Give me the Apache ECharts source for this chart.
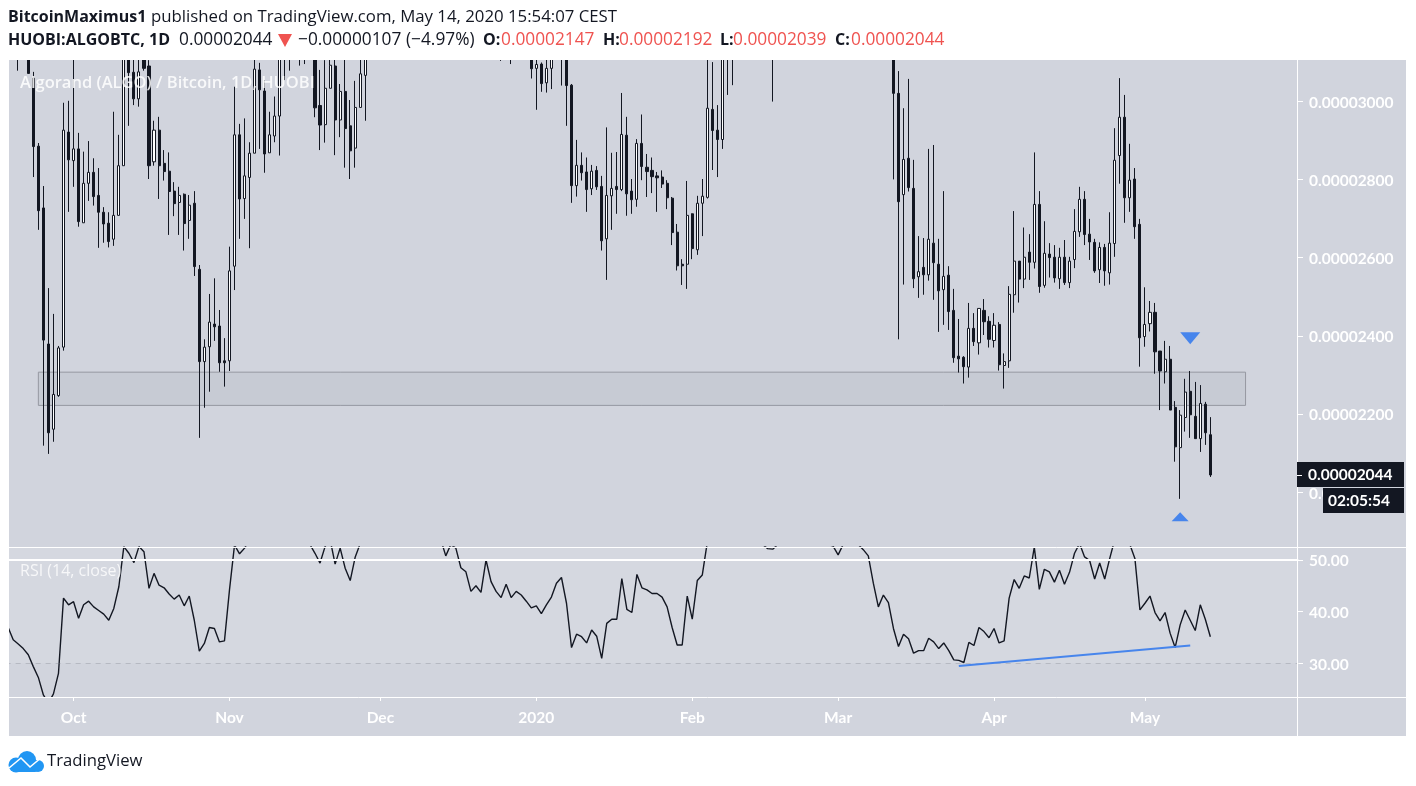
<!DOCTYPE html>
<html><head><meta charset="utf-8">
<style>html,body{margin:0;padding:0;background:#fff}#c{width:1416px;height:786px}</style>
<script src="https://cdn.jsdelivr.net/npm/echarts@6/dist/echarts.min.js"></script>
</head><body><div id="c"></div>
<script>
// Prices in units of 0.00000001 BTC. Bars beyond the top of the pane are estimates.
const opens=[3260,3230,3210,3180,3190,3059,2885,2727,2379,2161,
2247,2371,2921,2848,2878,2689,2790,2818,2759,2716,
2688,2647,2708,2835,3130,3074,3006,3110,3090,2845,
2926,2841,2821,2770,2741,2762,2695,2739,2570,2334,
2372,2430,2425,2336,2336,2578,2914,2751,2805,2867,
3080,3026,2868,2911,2962,3130,3150,3160,3180,3150,
3170,3150,2989,2940,3033,3090,2952,3025,2937,2880,
2984,3066,3120,3210,3305,3260,3340,3420,3385,3460,
3510,3470,3395,3440,3380,3330,3360,3300,3270,3310,
3350,3290,3250,3290,3230,3200,3240,3190,3180,3160,
3170,3140,3160,3190,3150,3084,3095,3047,3084,3130,
3150,3120,3041,2784,2836,2819,2776,2823,2782,2648,
2758,2782,2774,2913,2770,2749,2892,2831,2823,2809,
2806,2790,2752,2665,2583,2583,2712,2620,2739,2754,
2979,2926,2902,3110,3130,3120,3140,3180,3160,3200,
3170,3150,3130,3160,3195,3240,3290,3260,3320,3380,
3350,3410,3455,3420,3370,3395,3340,3360,3310,3285,
3320,3270,3240,3265,3215,3180,3150,3020,2761,2854,
2777,2551,2575,2556,2637,2583,2518,2555,2465,2348,
2345,2320,2419,2382,2465,2437,2388,2429,2324,2336,
2505,2591,2545,2614,2588,2736,2529,2609,2601,2546,
2601,2536,2595,2666,2749,2660,2639,2569,2626,2561,
2636,2861,2959,2753,2801,2685,2398,2431,2460,2361,
2308,2340,2217,2114,2191,2258,2194,2137,2225,2147];
const closes=[3230,3210,3180,3190,3071,2884,2720,2389,2152,2250,
2369,2926,2850,2878,2692,2790,2818,2756,2716,2686,
2641,2708,2835,3130,3073,3006,3075,3084,2835,2926,
2835,2820,2769,2738,2759,2687,2734,2577,2334,2371,
2435,2423,2331,2331,2566,2914,2750,2809,2867,3082,
3029,2865,2914,2962,3120,3150,3170,3180,3150,3170,
3150,2983,2939,3033,3092,2952,3025,2930,2873,2984,
3070,3120,3210,3305,3260,3340,3420,3385,3460,3510,
3470,3395,3440,3380,3330,3360,3300,3270,3310,3350,
3290,3250,3290,3230,3200,3240,3190,3180,3160,3170,
3140,3160,3190,3150,3083,3094,3045,3084,3120,3150,
3120,3040,2784,2836,2817,2774,2821,2781,2643,2759,
2777,2774,2915,2763,2748,2892,2833,2820,2807,2804,
2788,2753,2664,2579,2579,2708,2623,2739,2757,2982,
2925,2902,3115,3130,3115,3140,3180,3160,3200,3170,
3150,3130,3160,3195,3240,3290,3260,3320,3380,3350,
3410,3455,3420,3370,3395,3340,3360,3310,3285,3320,
3270,3240,3265,3215,3180,3150,3020,2743,2851,2779,
2546,2564,2556,2647,2587,2515,2552,2462,2344,2341,
2321,2419,2385,2470,2436,2391,2427,2326,2334,2506,
2591,2545,2601,2588,2736,2526,2611,2600,2548,2601,
2536,2591,2667,2749,2659,2640,2566,2626,2566,2637,
2849,2959,2753,2798,2679,2395,2429,2460,2359,2310,
2340,2210,2116,2197,2256,2198,2137,2227,2152,2044];
const lows=[3180,3150,3078,3120,3071,2806,2671,2119,2098,2129,
2244,2362,2717,2781,2679,2689,2745,2733,2625,2638,
2626,2630,2708,2835,2937,2990,2986,3078,2801,2835,
2750,2797,2658,2706,2658,2618,2648,2553,2139,2216,
2257,2387,2308,2270,2310,2517,2648,2699,2624,2867,
2878,2817,2868,2895,2861,3054,3078,3120,3091,3095,
3125,2959,2875,2894,3033,2862,2908,2830,2801,2830,
2984,2950,3125,3180,3230,3220,3290,3350,3350,3420,
3440,3370,3360,3350,3300,3300,3270,3240,3240,3280,
3260,3220,3220,3200,3170,3170,3160,3140,3103,3125,
3095,3115,3140,3120,3058,2978,3024,3022,3031,3115,
3040,2937,2740,2756,2797,2717,2760,2773,2618,2543,
2671,2712,2770,2707,2712,2730,2798,2755,2765,2717,
2778,2724,2632,2567,2530,2520,2596,2607,2655,2751,
2824,2806,2878,3016,3041,3112,3120,3130,3140,3145,
3120,3115,2999,3135,3170,3215,3225,3235,3290,3330,
3325,3385,3395,3345,3345,3320,3315,3290,3260,3260,
3245,3215,3215,3190,3155,3125,2800,2391,2531,2769,
2522,2497,2505,2541,2492,2410,2428,2415,2331,2306,
2278,2293,2374,2352,2402,2370,2370,2311,2265,2318,
2459,2485,2522,2543,2572,2510,2523,2549,2536,2520,
2530,2522,2573,2653,2632,2594,2561,2535,2528,2531,
2602,2789,2689,2717,2648,2321,2372,2411,2303,2210,
2278,2210,2078,1983,2155,2139,2137,2103,2121,2039];
const highs=[3290,3270,3240,3250,3210,3075,2893,2783,2522,2456,
2374,2996,3001,3130,2919,2871,2898,2854,2829,2729,
2716,2973,2914,3200,3190,3120,3130,3150,3105,2950,
2960,2875,2869,2793,2781,2764,2760,2770,2581,2391,
2507,2547,2466,2394,2628,3037,2942,2956,2895,3140,
3098,3054,2973,3012,3150,3190,3220,3230,3240,3220,
3210,3190,3080,3105,3130,3130,3044,3140,3003,3052,
3130,3160,3250,3340,3350,3380,3470,3460,3510,3560,
3550,3500,3480,3470,3400,3400,3390,3340,3360,3400,
3390,3330,3330,3320,3270,3280,3280,3230,3210,3220,
3210,3190,3220,3230,3180,3110,3099,3130,3140,3180,
3180,3150,3044,2901,2869,2856,2837,2834,2809,2933,
2868,2870,3021,2960,2801,2903,2966,2865,2856,2819,
2823,2798,2755,2686,2596,2796,2713,2758,2801,3120,
3100,2990,3150,3170,3170,3190,3220,3230,3250,3250,
3220,3200,3210,3220,3270,3310,3320,3350,3410,3405,
3440,3490,3485,3445,3420,3420,3395,3390,3335,3345,
3345,3295,3290,3290,3240,3200,3200,3077,2982,3057,
2850,2655,2650,2878,2888,2648,2770,2578,2520,2443,
2348,2484,2458,2470,2494,2450,2458,2435,2355,2527,
2719,2591,2677,2660,2869,2770,2693,2637,2632,2625,
2645,2602,2724,2781,2770,2699,2648,2639,2635,2716,
2931,3059,3016,2891,2829,2699,2524,2489,2484,2361,
2387,2374,2233,2210,2290,2310,2282,2274,2231,2192];
const rsiValues=[36.9,34.5,33.7,32.8,31.6,29.3,27.2,23.8,22.2,24,
28,42.6,41.3,41.9,38.7,41.3,42,40.9,40.2,39.5,
38.3,40.6,44.8,52.6,51.3,49.5,52.6,51.6,44.5,47.4,
45.1,44.6,43.4,42.4,43.2,41.1,43,38.3,32.3,33.8,
36.9,36.7,34.1,34.3,44.2,52.9,51.2,52.3,54,55,
57,56,54.5,56,58,57,55,54,55,54,
53,51.3,49.4,52.6,54,49.2,52.3,48.4,46,50.6,
53.2,54.5,55,56,58,57,59,60,58,60,
61,59,58,59,57,56,54,50.8,53,52.3,
48.5,47.7,43.9,45,43.7,50,45.8,43.9,42.7,45.3,
42.7,43.9,43.2,42,40.7,41.1,39.6,41.3,42.8,45.5,
46.6,41.6,33,35.6,35.1,33.9,36.4,35.2,30.9,37.7,
38.5,38.5,46.4,40.4,39.8,47.2,44.6,44.2,43.5,43.5,
42.8,40.9,36.9,33.5,33.5,43,38.5,46,47.1,53.5,
54.5,55,54,53.5,56,57,58,56,55,54,
53,52.2,52.1,53,54,56,57,58,57,58,
56,55,54,53,52.7,51,53,54,53,53,
52,50.8,45.5,40.9,43.2,41.7,36.7,33.2,35.6,34.7,
31.9,32.4,32.4,34.8,34.1,32.8,33.9,32.4,30.6,30.5,
30.1,34,33.4,36.9,36.1,34.9,36.7,33.9,34.3,42.6,
46.2,44.5,46.9,46.5,52.5,44.3,48.2,47.7,45.7,48,
45.3,47.6,51.3,53.2,50.6,49.9,46.3,49.4,46.3,50.3,
54,58,56,53,50.3,40.3,41.6,43,39.8,38.2,
39.8,35.8,33,37.4,40.3,38.3,36.3,41.3,38.5,35.1];

const priceTicks=[2000,2200,2400,2600,2800,3000];
const rsiTicks=[30,40,50];
const monthTicks={'2019-10-01':'Oct','2019-11-01':'Nov','2019-12-01':'Dec','2020-01-01':'2020','2020-02-01':'Feb','2020-03-01':'Mar','2020-04-01':'Apr','2020-05-01':'May'};
const firstDay=Date.UTC(2019,8,18), slotCount=257;
const categories=[];
for(let i=0;i<slotCount;i++)categories.push(new Date(firstDay+i*864e5).toISOString().slice(0,10));
const zoneRange=['2019-09-24','2020-05-21',2307,2222];
const trendLine=[['2020-03-25',29.4],['2020-05-10',33.4]];
const arrowDown=['2020-05-10',2394], arrowUp=['2020-05-08',1937];

const ink='#131722', blue='#4785ec', red='#ef5350', FONT='"Open Sans",sans-serif', AXF='Lato,sans-serif';
const candles=opens.map((o,i)=>[o,closes[i],lows[i],highs[i]]);
const isTick=(i,v)=>v in monthTicks;
const chart=echarts.init(document.getElementById('c'),null,{renderer:'canvas'});
function T(x,y,s,opt){return {type:'text',z:120,silent:true,style:Object.assign({x,y,text:s,fill:ink,font:'16.8px '+FONT,textVerticalAlign:'middle'},opt||{})};}
const bold='bold 16px '+FONT, num='17.3px '+FONT;
const axisFont={color:'#fff',fontFamily:AXF,fontSize:15.5,fontWeight:'bold'};
chart.setOption({
 animation:false,backgroundColor:'#fff',
 grid:[{left:5.655,top:60,width:1292.71,height:487},{left:5.655,top:547,width:1292.71,height:150}],
 xAxis:[
  {gridIndex:0,type:'category',data:categories,show:false},
  {gridIndex:1,type:'category',data:categories,axisLine:{show:false},
   axisTick:{show:true,alignWithLabel:true,interval:isTick,length:4,lineStyle:{color:'#fff'}},
   axisLabel:Object.assign({interval:isTick,formatter:v=>monthTicks[v]||'',margin:13},axisFont)}],
 yAxis:[
  {gridIndex:0,type:'value',position:'right',offset:-1.37,min:1859.85,max:3105.35,splitLine:{show:false},axisLine:{show:false},
   axisTick:{show:true,length:6,lineStyle:{color:'#fff'},customValues:priceTicks},
   axisLabel:Object.assign({customValues:priceTicks,formatter:v=>(v*1e-8).toFixed(8),margin:12,verticalAlign:'top',lineHeight:3},axisFont)},
  {gridIndex:1,type:'value',position:'right',offset:-1.37,min:23.4,max:52.52,splitLine:{show:false},axisLine:{show:false},
   axisTick:{show:true,length:6,lineStyle:{color:'#fff'},customValues:rsiTicks},
   axisLabel:Object.assign({customValues:rsiTicks,formatter:v=>v.toFixed(2),margin:12,verticalAlign:'top',lineHeight:3},axisFont)}],
 series:[
  {type:'candlestick',xAxisIndex:0,yAxisIndex:0,data:candles,barWidth:2.6,clip:true,
   itemStyle:{color:'#ffffff',color0:ink,borderColor:ink,borderColor0:ink,borderWidth:1},
   markArea:{silent:true,itemStyle:{color:'rgba(120,123,134,0.1)',borderColor:'#9598a1',borderWidth:1},
     data:[[{xAxis:zoneRange[0],yAxis:zoneRange[2]},{xAxis:zoneRange[1],yAxis:zoneRange[3]}]]},
   markPoint:{silent:true,animation:false,label:{show:false},data:[
     {coord:arrowDown,symbol:'triangle',symbolSize:[20,12],symbolRotate:180,itemStyle:{color:blue}},
     {coord:arrowUp,symbol:'triangle',symbolSize:[17,9],itemStyle:{color:blue}}]}},
  {type:'line',xAxisIndex:1,yAxisIndex:1,data:rsiValues,showSymbol:false,smooth:false,clip:true,
   lineStyle:{color:ink,width:1.4},z:3,
   markArea:{silent:true,itemStyle:{color:'rgba(255,255,255,0.1)'},data:[[{yAxis:30},{yAxis:70}]]},
   markLine:{silent:true,symbol:'none',label:{show:false},animation:false,data:[
     {yAxis:50,lineStyle:{color:'#fff',width:2,type:'solid'}},
     {yAxis:30,lineStyle:{color:'rgba(120,123,134,0.3)',width:1,type:[5,5]}},
     [{coord:trendLine[0],lineStyle:{color:blue,width:2,type:'solid'}},{coord:trendLine[1]}]]}}
 ],
 graphic:{elements:[
  {type:'rect',z:-100,silent:true,shape:{x:9,y:60,width:1397,height:676},style:{fill:'#d1d4dd'}},
  {type:'rect',z:100,silent:true,shape:{x:0,y:60,width:9,height:676},style:{fill:'#fff'}},
  {type:'rect',z:100,silent:true,shape:{x:0,y:0,width:1416,height:60},style:{fill:'#fff'}},
  {type:'line',z:90,silent:true,shape:{x1:9,y1:547.5,x2:1406,y2:547.5},style:{stroke:'#fff',lineWidth:1}},
  {type:'line',z:90,silent:true,shape:{x1:9,y1:697.5,x2:1406,y2:697.5},style:{stroke:'#fff',lineWidth:1}},
  {type:'line',z:90,silent:true,shape:{x1:1297.5,y1:60,x2:1297.5,y2:736},style:{stroke:'#fff',lineWidth:1}},
  // last price tag and countdown
  {type:'rect',z:100,silent:true,shape:{x:1297,y:462,width:107,height:25},style:{fill:ink}},
  {type:'line',z:101,silent:true,shape:{x1:1297,y1:475.5,x2:1302,y2:475.5},style:{stroke:'#fff',lineWidth:1}},
  {type:'rect',z:100,silent:true,shape:{x:1323,y:488,width:81,height:25},style:{fill:ink}},
  T(1308,475,'0.00002044',{fill:'#fff',font:'bold 15.5px '+AXF}),
  T(1328,501,'02:05:54',{fill:'#fff',font:'bold 15.5px '+AXF}),
  // pane captions
  T(20,83,'Algorand (ALGO) / Bitcoin, 1D, HUOBI',{fill:'rgba(255,255,255,0.85)',font:'600 16.5px '+FONT}),
  T(20,571,'RSI (14, close)',{fill:'rgba(255,255,255,0.8)',font:'16px '+FONT}),
  // header
  T(8,17,'BitcoinMaximus1',{font:bold}),
  T(151,17,'published on TradingView.com, May 14, 2020 15:54:07 CEST'),
  T(8,40,'HUOBI:ALGOBTC, 1D',{font:bold}),
  T(179,40,'0.00002044',{font:num}),
  {type:'polygon',z:120,silent:true,shape:{points:[[278,34],[292,34],[285,47]]},style:{fill:red}},
  T(298,40,'\u22120.00000107',{font:num}),
  T(406,40,'(\u22124.97%)',{font:num}),
  T(483,40,'O:',{font:bold}),T(501,40,'0.00002147',{fill:red,font:num}),
  T(603,40,'H:',{font:bold}),T(619,40,'0.00002192',{fill:red,font:num}),
  T(720,40,'L:',{font:bold}),T(733,40,'0.00002039',{fill:red,font:num}),
  T(835,40,'C:',{font:bold}),T(851,40,'0.00002044',{fill:red,font:num}),
  // logo
  {type:'rect',z:120,silent:true,shape:{x:12,y:760,width:28,height:12,r:5},style:{fill:'#2196f3'}},
  {type:'circle',z:120,silent:true,shape:{cx:27,cy:760,r:9},style:{fill:'#2196f3'}},
  {type:'circle',z:120,silent:true,shape:{cx:16,cy:765,r:7.5},style:{fill:'#2196f3'}},
  {type:'circle',z:120,silent:true,shape:{cx:38,cy:766,r:6},style:{fill:'#2196f3'}},
  {type:'polyline',z:121,silent:true,shape:{points:[[9,768],[21,758],[30,767],[42,757]]},style:{stroke:'#fff',fill:'none',lineWidth:1.6}},
  T(47,761,'TradingView',{font:'16.7px '+FONT})
 ]}
});
</script></body></html>
